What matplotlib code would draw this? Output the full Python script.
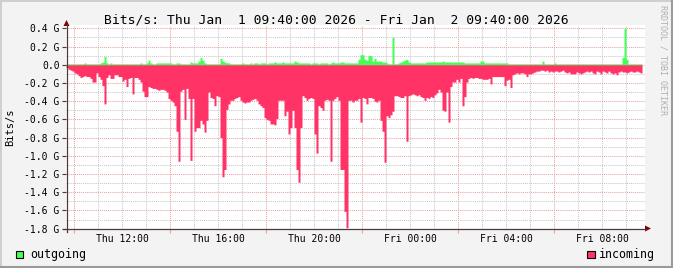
import numpy as np
import pandas as pd
import matplotlib
matplotlib.use('Agg')
import matplotlib.pyplot as plt
import matplotlib.dates as mdates
from matplotlib.patches import Rectangle, Polygon
from matplotlib.lines import Line2D

plt.rcParams['font.family'] = 'DejaVu Sans Mono'

# 5 minute samples, Gbit/s
start = '2026-01-01 09:40'
step = '5min'

outgoing = [
    0.01, 0.01, 0.01, 0.01, 0.01, 0.01, 0.01, 0.01, 0.01, 0.02, 0.01, 0.01,
    0.01, 0.01, 0.01, 0.01, 0.01, 0.02, 0.03, 0.09, 0.02, 0.01, 0.02, 0.01,
    0.01, 0.01, 0.01, 0.01, 0.01, 0.01, 0.01, 0.01, 0.01, 0.01, 0.01, 0.01,
    0.01, 0.02, 0.01, 0.01, 0.02, 0.05, 0.02, 0.01, 0.01, 0.02, 0.02, 0.02,
    0.02, 0.02, 0.02, 0.02, 0.02, 0.01, 0.01, 0.02, 0.02, 0.01, 0.01, 0.01,
    0.01, 0.01, 0.03, 0.02, 0.02, 0.02, 0.04, 0.08, 0.05, 0.02, 0.01, 0.01,
    0.01, 0.01, 0.01, 0.01, 0.01, 0.07, 0.04, 0.03, 0.02, 0.02, 0.01, 0.01,
    0.01, 0.01, 0.01, 0.01, 0.02, 0.01, 0.01, 0.01, 0.02, 0.01, 0.02, 0.02,
    0.01, 0.02, 0.02, 0.02, 0.01, 0.02, 0.02, 0.02, 0.03, 0.02, 0.02, 0.02,
    0.03, 0.02, 0.02, 0.02, 0.02, 0.02, 0.04, 0.03, 0.02, 0.02, 0.02, 0.02,
    0.02, 0.02, 0.01, 0.02, 0.02, 0.02, 0.01, 0.02, 0.02, 0.02, 0.02, 0.01,
    0.02, 0.03, 0.02, 0.02, 0.02, 0.03, 0.03, 0.02, 0.02, 0.02, 0.02, 0.02,
    0.02, 0.02, 0.06, 0.11, 0.11, 0.06, 0.05, 0.10, 0.10, 0.04, 0.07, 0.04,
    0.04, 0.04, 0.03, 0.03, 0.02, 0.01, 0.01, 0.30, 0.01, 0.01, 0.02, 0.03,
    0.04, 0.05, 0.06, 0.03, 0.02, 0.02, 0.02, 0.02, 0.02, 0.02, 0.02, 0.02,
    0.03, 0.03, 0.03, 0.03, 0.03, 0.03, 0.03, 0.03, 0.04, 0.03, 0.03, 0.03,
    0.03, 0.03, 0.03, 0.03, 0.03, 0.03, 0.03, 0.02, 0.02, 0.02, 0.02, 0.02,
    0.02, 0.02, 0.02, 0.04, 0.04, 0.02, 0.02, 0.02, 0.02, 0.02, 0.02, 0.02,
    0.02, 0.02, 0.02, 0.02, 0.02, 0.01, 0.01, 0.01, 0.01, 0.01, 0.01, 0.01,
    0.01, 0.01, 0.01, 0.01, 0.01, 0.01, 0.01, 0.01, 0.01, 0.01, 0.04, 0.01,
    0.01, 0.01, 0.01, 0.01, 0.02, 0.01, 0.01, 0.01, 0.01, 0.01, 0.01, 0.01,
    0.01, 0.01, 0.01, 0.01, 0.01, 0.01, 0.01, 0.01, 0.01, 0.01, 0.01, 0.01,
    0.01, 0.01, 0.01, 0.01, 0.01, 0.01, 0.01, 0.01, 0.01, 0.01, 0.01, 0.01,
    0.01, 0.01, 0.08, 0.40, 0.06, 0.01, 0.01, 0.01, 0.01, 0.01, 0.01, 0.01,
]

incoming = [
    0.03, 0.05, 0.06, 0.07, 0.09, 0.10, 0.12, 0.14, 0.13, 0.12, 0.13, 0.13,
    0.15, 0.19, 0.19, 0.09, 0.13, 0.16, 0.23, 0.43, 0.14, 0.11, 0.15, 0.15,
    0.11, 0.11, 0.13, 0.13, 0.18, 0.16, 0.24, 0.15, 0.14, 0.32, 0.14, 0.14,
    0.16, 0.19, 0.29, 0.35, 0.35, 0.24, 0.25, 0.26, 0.26, 0.27, 0.28, 0.27,
    0.27, 0.28, 0.30, 0.37, 0.39, 0.41, 0.45, 0.73, 1.06, 0.29, 0.27, 0.60,
    0.26, 0.37, 1.05, 0.37, 0.73, 0.69, 0.69, 0.61, 0.65, 0.74, 0.61, 0.30,
    0.36, 0.37, 0.45, 0.34, 0.35, 0.80, 1.23, 1.15, 0.49, 0.43, 0.39, 0.39,
    0.37, 0.36, 0.35, 0.39, 0.41, 0.42, 0.41, 0.41, 0.39, 0.38, 0.37, 0.39,
    0.43, 0.45, 0.47, 0.58, 0.60, 0.61, 0.65, 0.65, 0.66, 0.59, 0.39, 0.39,
    0.39, 0.56, 0.51, 0.76, 0.69, 0.50, 0.69, 1.15, 1.29, 0.69, 0.34, 0.36,
    0.39, 0.37, 0.36, 0.37, 0.76, 0.97, 0.45, 0.47, 0.50, 0.39, 0.38, 0.39,
    1.06, 0.39, 0.37, 0.35, 0.39, 1.15, 1.15, 1.61, 1.79, 0.39, 0.39, 0.41,
    0.39, 0.39, 0.37, 0.63, 0.36, 0.37, 0.43, 0.36, 0.36, 0.37, 0.40, 0.41,
    0.39, 0.61, 0.73, 1.07, 0.56, 0.58, 0.55, 0.51, 0.34, 0.34, 0.35, 0.36,
    0.36, 0.34, 0.84, 0.34, 0.33, 0.32, 0.33, 0.34, 0.33, 0.35, 0.36, 0.39,
    0.36, 0.37, 0.35, 0.36, 0.33, 0.31, 0.27, 0.30, 0.50, 0.51, 0.30, 0.63,
    0.24, 0.19, 0.19, 0.16, 0.19, 0.15, 0.45, 0.35, 0.19, 0.15, 0.14, 0.15,
    0.14, 0.14, 0.15, 0.15, 0.16, 0.16, 0.16, 0.15, 0.21, 0.13, 0.13, 0.13,
    0.13, 0.13, 0.13, 0.23, 0.17, 0.16, 0.25, 0.11, 0.10, 0.09, 0.10, 0.09,
    0.09, 0.10, 0.13, 0.10, 0.10, 0.09, 0.08, 0.07, 0.07, 0.06, 0.06, 0.07,
    0.06, 0.08, 0.07, 0.08, 0.07, 0.07, 0.08, 0.07, 0.06, 0.08, 0.09, 0.08,
    0.10, 0.10, 0.10, 0.08, 0.09, 0.10, 0.09, 0.08, 0.07, 0.08, 0.07, 0.09,
    0.10, 0.07, 0.08, 0.10, 0.07, 0.08, 0.09, 0.07, 0.09, 0.10, 0.09, 0.11,
    0.08, 0.07, 0.08, 0.08, 0.09, 0.08, 0.07, 0.08, 0.08, 0.07, 0.08, 0.09,
]

y_ticks = [0.4, 0.2, 0.0, -0.2, -0.4, -0.6, -0.8, -1.0, -1.2, -1.4, -1.6, -1.8]
y_labels = ['0.4 G', '0.2 G', '0.0', '-0.2 G', '-0.4 G', '-0.6 G', '-0.8 G',
            '-1.0 G', '-1.2 G', '-1.4 G', '-1.6 G', '-1.8 G']

title = 'Bits/s: Thu Jan  1 09:40:00 2026 - Fri Jan  2 09:40:00 2026'

GREEN = '#44FF55'
PINK = '#FF3366'
MGRID = '#EEA0A0'
GRID = '#C8C8C8'
AXIS = '#4A3A3A'
ARROW = '#7F0000'

W, H = 673, 268


def fx(px):
    return px / W


def fy(py):
    return 1 - py / H


fig = plt.figure(figsize=(W / 100, H / 100), dpi=100, facecolor='#F3F3F3')

# white canvas behind the graph
fig.add_artist(Rectangle((fx(66), fy(229)), (645 - 66) / W, (229 - 25) / H,
                         transform=fig.transFigure, facecolor='white',
                         edgecolor='none', zorder=0))

ax = fig.add_axes([fx(66), fy(228.7), 576 / W, 200.4 / H])
ax.patch.set_visible(False)
for s in ax.spines.values():
    s.set_visible(False)

times = pd.date_range(start, periods=len(incoming) + 1, freq=step)
x = mdates.date2num(times.to_pydatetime())
out = np.append(outgoing, outgoing[-1])
inc = np.append(incoming, incoming[-1])

ax.fill_between(x, out, 0, step='post', color=GREEN, lw=0, zorder=3)
ax.fill_between(x, -inc, 0, step='post', color=PINK, lw=0, zorder=3)

ax.set_xlim(x[0], x[-1])
ax.set_ylim(-1.8, 0.4)

# grid: hourly (gray), every 4h (red); 0.1 G (gray), 0.2 G (red)
dots = (0, (1, 1))
top_frac = (228.7 - 26) / 200.4
right_frac = (644 - 66) / 576
for h in pd.date_range('2026-01-01 10:00', '2026-01-02 09:00', freq='h'):
    c = MGRID if h.hour % 4 == 2 else GRID
    ax.axvline(mdates.date2num(h.to_pydatetime()), ymin=0, ymax=top_frac,
               color=c, lw=0.75, ls=dots, clip_on=False, zorder=1)
for k in range(-18, 5):
    c = MGRID if k % 2 == 0 else GRID
    ax.axhline(k / 10, xmin=0, xmax=right_frac, color=c, lw=0.75, ls=dots,
               clip_on=False, zorder=1)

ax.set_yticks(y_ticks, y_labels)
ax.tick_params(axis='y', length=3, width=0.8, color=AXIS, pad=1.5,
               labelsize=7)

ax.xaxis.set_major_locator(mdates.HourLocator(byhour=[0, 4, 8, 12, 16, 20]))
ax.xaxis.set_major_formatter(mdates.DateFormatter('%a %H:%M'))
ax.xaxis.set_minor_locator(mdates.HourLocator(byhour=[2, 6, 10, 14, 18, 22]))
ax.tick_params(axis='x', which='major', length=0, pad=4, labelsize=7)
ax.tick_params(axis='x', which='minor', length=3, width=0.8, color=MGRID)

# axes with arrows
fig.add_artist(Line2D([fx(66.5), fx(66.5)], [fy(231.5), fy(24)],
                      color=AXIS, lw=0.9))
fig.add_artist(Line2D([fx(63), fx(646)], [fy(228.5), fy(228.5)],
                      color=AXIS, lw=0.9))
fig.add_artist(Polygon([(fx(63.5), fy(26)), (fx(69.5), fy(26)),
                        (fx(66.5), fy(20))], closed=True,
                       transform=fig.transFigure, color=ARROW, lw=0))
fig.add_artist(Polygon([(fx(645), fy(225.5)), (fx(645), fy(231.5)),
                        (fx(651), fy(228.5))], closed=True,
                       transform=fig.transFigure, color=ARROW, lw=0))

# texts
fig.text(fx(336.5), fy(23.5), title, ha='center', va='baseline', fontsize=9.4)
fig.text(fx(10), fy(127), 'Bits/s', rotation=90, ha='center', va='center',
         fontsize=7.5)
fig.text(fx(663.5), fy(60), 'RRDTOOL / TOBI OETIKER', rotation=270,
         ha='center', va='center', fontsize=6, color='#B0B0B0')

# legend
fig.add_artist(Rectangle((fx(15.5), fy(258)), 7.5 / W, 7.5 / H,
                         transform=fig.transFigure, facecolor=GREEN,
                         edgecolor='black', lw=0.8))
fig.text(fx(30), fy(258.3), 'outgoing', ha='left', va='baseline', fontsize=8.4)
fig.add_artist(Rectangle((fx(587), fy(258)), 7.5 / W, 7.5 / H,
                         transform=fig.transFigure, facecolor=PINK,
                         edgecolor='black', lw=0.8))
fig.text(fx(598.5), fy(258.3), 'incoming', ha='left', va='baseline',
         fontsize=8.4)

# 3d frame
fig.add_artist(Line2D([0, 1], [fy(0.7), fy(0.7)], color='#CFCFCF', lw=1.4))
fig.add_artist(Line2D([fx(0.7), fx(0.7)], [0, 1], color='#CFCFCF', lw=1.4))
fig.add_artist(Line2D([0, 1], [fy(267), fy(267)], color='#9A9A9A', lw=1.5))
fig.add_artist(Line2D([fx(672), fx(672)], [0, 1], color='#9A9A9A', lw=1.5))

fig.savefig('out.png', dpi=100, facecolor=fig.get_facecolor())
